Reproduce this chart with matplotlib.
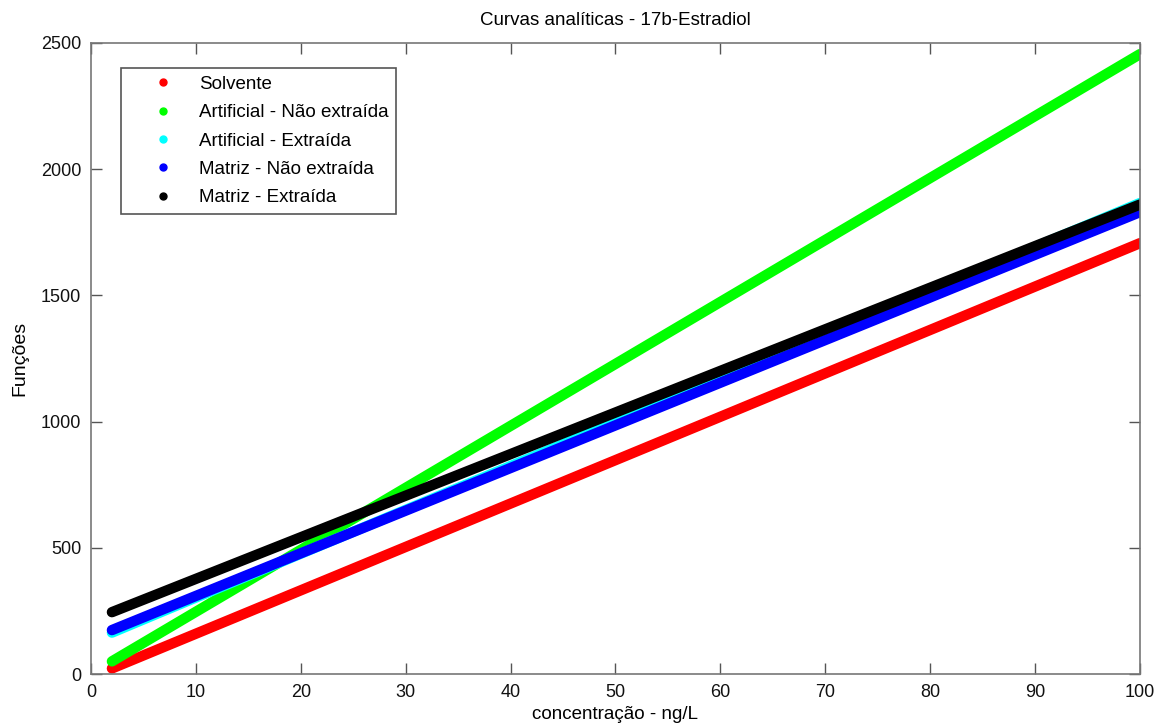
import matplotlib
matplotlib.use("Agg")
import matplotlib.pyplot as plt
from matplotlib.lines import Line2D

plt.rcParams['font.family'] = ['Liberation Sans', 'DejaVu Sans']

series_names = ["Solvente", "Artificial - Não extraída", "Artificial - Extraída",
                "Matriz - Não extraída", "Matriz - Extraída"]
series_colors = ["#ff0000", "#00ff00", "#00ffff", "#0000ff", "#000000"]
conc_range = [2, 100]
y_solvente = [22, 1707]
y_art_nao = [50, 2456]
y_art_ext = [164, 1866]
y_mat_nao = [174, 1830]
y_mat_ext = [245, 1860]
series_values = [y_solvente, y_art_nao, y_art_ext, y_mat_nao, y_mat_ext]

xticks = list(range(0, 101, 10))
yticks = list(range(0, 2501, 500))

fig = plt.figure(figsize=(11.6, 7.27), dpi=100)
ax = fig.add_axes([0.0784, 0.0729, 0.9044, 0.868])

for name, col, vals in zip(series_names, series_colors, series_values):
    ax.plot(conc_range, vals, color=col, lw=7.5, solid_capstyle='round')

ax.set_xlim(0, 100)
ax.set_ylim(0, 2500)
ax.set_xticks(xticks)
ax.set_yticks(yticks)
ax.tick_params(direction='in', length=8, width=1, colors='#555555',
               labelcolor='#111111', labelsize=13, top=True, right=True, pad=7)
for s in ax.spines.values():
    s.set_color('#777777')
    s.set_linewidth(1.2)

ax.set_title("Curvas analíticas - 17b-Estradiol", fontsize=13.5, pad=13)
ax.set_xlabel("concentração - ng/L", fontsize=13.5, labelpad=4)
ax.set_ylabel("Funções", fontsize=14, labelpad=9)

handles = [Line2D([], [], ls='none', marker='o', markersize=5, color=c,
                  markeredgecolor=c) for c in series_colors]
leg = ax.legend(handles, series_names, loc='upper left',
                bbox_to_anchor=(0.0286, 0.960), borderaxespad=0,
                fontsize=13.5, labelspacing=0.6, handlelength=3.7,
                handletextpad=0.05, borderpad=0.4, fancybox=False, framealpha=1)
leg.get_frame().set_edgecolor('#555555')
leg.get_frame().set_linewidth(1.2)

fig.savefig("out.png", dpi=100)
